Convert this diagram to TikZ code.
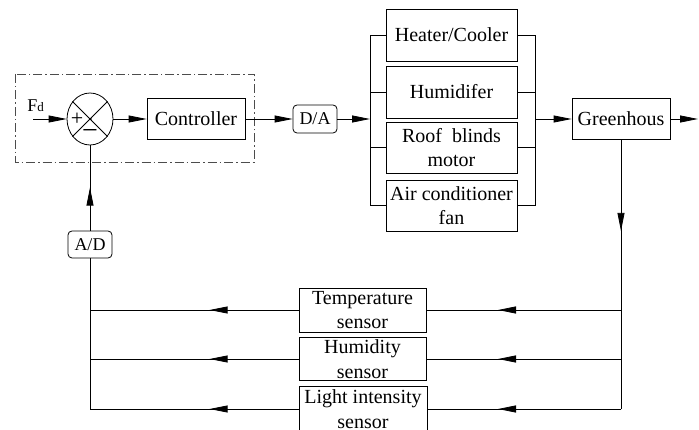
\documentclass[tikz,border=0pt]{standalone}
\usepackage{fontspec}
\setmainfont{Liberation Serif}
\usetikzlibrary{arrows.meta,shapes.geometric,decorations.markings}
\begin{document}
\begin{tikzpicture}[x=1pt,y=-1pt,
  line width=0.8pt,
  >={Triangle[length=18pt,width=7pt]},
  box/.style={draw, rectangle, inner sep=0pt, align=center, font=\fontsize{20}{24.5}\selectfont},
  rbox/.style={box, rounded corners=4pt, font=\fontsize{18}{20}\selectfont},
  marrow/.style={decoration={markings, mark=at position #1 with {\arrow{>}}}, postaction={decorate}},
  dashdotbox/.style={draw=black!70, dash pattern=on 9pt off 3pt on 1.5pt off 3pt},
]
\clip (0,0) rectangle (699,430);
\fill[white] (0,0) rectangle (699,430);

% controller part
\draw[dashdotbox] (15,74) rectangle (254,162);
\node[draw, ellipse, minimum width=46pt, minimum height=52pt, inner sep=0pt] (sum) at (90,119) {};
\draw (sum.45) -- (sum.225);
\draw (sum.135) -- (sum.315);
\node[font=\fontsize{22}{22}\selectfont, inner sep=0pt] (plus) at (77,119) {+};
\node[font=\fontsize{28}{28}\selectfont, inner sep=0pt] (minus) at (90,135) {−};
\fill (91,119) circle (0.8);
\node[anchor=base west, inner sep=0pt] (fd) at (27,112) {\fontsize{18}{18}\selectfont F\fontsize{13}{13}\selectfont d};
\coordinate (in) at (33,119);
\draw[->] (in) -- (sum.west);

\node[box, minimum width=98pt, minimum height=41pt] (ctrl) at (196,119) {Controller};
\draw[->] (sum.east) -- (ctrl.west);
\node[rbox, minimum width=44pt, minimum height=28pt] (da) at (315,119) {D/A};
\draw[->] (ctrl.east) -- (da.west);

% actuators
\node[box, minimum width=131pt, minimum height=52pt] (heat) at (451.5,35) {Heater/Cooler};
\node[box, minimum width=131pt, minimum height=52pt] (hum) at (451.5,92) {Humidifer};
\node[box, minimum width=131pt, minimum height=51pt] (roof) at (451.5,147.5) {Roof\ \ blinds\\motor};
\node[box, minimum width=131pt, minimum height=51pt] (air) at (451.5,205.5) {Air conditioner\\fan};

\coordinate (bl) at (370,0);
\coordinate (br) at (535,0);
\draw (heat.west) -- (heat.west -| bl) -- (air.west -| bl) -- (air.west);
\draw (hum.west) -- (hum.west -| bl);
\draw (roof.west) -- (roof.west -| bl);
\draw (heat.east) -- (heat.east -| br) -- (air.east -| br) -- (air.east);
\draw (hum.east) -- (hum.east -| br);
\draw (roof.east) -- (roof.east -| br);
\draw[->] (da.east) -- (da.east -| bl);

% greenhouse
\node[box, minimum width=98pt, minimum height=41pt] (gh) at (621,119) {Greenhous};
\draw[->] (gh.west -| br) -- (gh.west);
\coordinate (out) at (698,119);
\draw[->] (gh.east) -- (out);
\coordinate (rb) at (621,409);
\draw[marrow=91pt] (gh.south) -- (rb);

% sensors
\node[box, minimum width=127pt, minimum height=44pt] (temp) at (362.5,310) {Temperature\\sensor};
\node[box, minimum width=127pt, minimum height=43pt] (hums) at (362.5,359) {Humidity\\sensor};
\node[box, minimum width=128pt, minimum height=46pt] (light) at (363,409) {Light intensity\\sensor};

\coordinate (lb) at (90,409);
\draw[marrow=123pt] (temp.east -| rb) -- (temp.east);
\draw[marrow=123pt] (hums.east -| rb) -- (hums.east);
\draw[marrow=123pt] (rb) -- (light.east);
\draw[marrow=89pt] (temp.west) -- (temp.west -| lb);
\draw[marrow=89pt] (hums.west) -- (hums.west -| lb);
\draw[marrow=89pt] (light.west) -- (lb);

\node[rbox, minimum width=44pt, minimum height=27pt] (ad) at (90,244.5) {A/D};
\draw (lb) -- (ad.south);
\draw[marrow=43pt] (ad.north) -- (sum.south);
\end{tikzpicture}
\end{document}
